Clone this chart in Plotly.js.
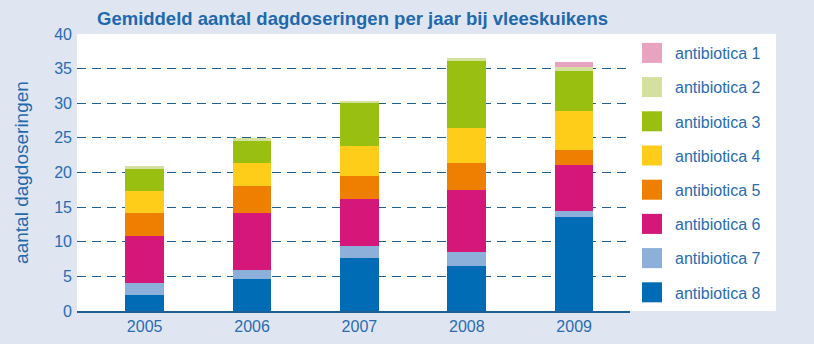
<!DOCTYPE html>
<html>
<head>
<meta charset="utf-8">
<script src="https://cdn.plot.ly/plotly-3.0.1.min.js"></script>
<style>
  html, body { margin: 0; padding: 0; background: #dfe6f2; }
  #chart { width: 814px; height: 344px; }
</style>
</head>
<body>
<div id="chart"></div>
<script>
const years = ['2005', '2006', '2007', '2008', '2009'];
const seriesNames = ['antibiotica 8', 'antibiotica 7', 'antibiotica 6', 'antibiotica 5',
                     'antibiotica 4', 'antibiotica 3', 'antibiotica 2', 'antibiotica 1'];
const antibiotica8 = [2.36, 4.68, 7.72, 6.57, 13.52];
const antibiotica7 = [1.74, 1.31, 1.60, 2.02, 0.87];
const antibiotica6 = [6.67, 8.11, 6.81, 8.84, 6.67];
const antibiotica5 = [3.33, 3.90, 3.33, 3.92, 2.17];
const antibiotica4 = [3.30, 3.35, 4.34, 5.07, 5.65];
const antibiotica3 = [3.10, 3.15, 6.24, 9.71, 5.80];
const antibiotica2 = [0.40, 0.45, 0.29, 0.44, 0.58];
const antibiotica1 = [0.00, 0.00, 0.00, 0.00, 0.72];
const seriesValues = [antibiotica8, antibiotica7, antibiotica6, antibiotica5,
                      antibiotica4, antibiotica3, antibiotica2, antibiotica1];
const seriesColors = ['#006cb5', '#8db0da', '#d5177a', '#ee7f00',
                      '#fdcd1a', '#99c010', '#d4e19e', '#e8a3c0'];
const yTicks = [0, 5, 10, 15, 20, 25, 30, 35, 40];
const gridTicks = [5, 10, 15, 20, 25, 30, 35];

const FONT = '"Liberation Sans Narrow", "Arial Narrow", "Liberation Sans", Arial, sans-serif';
const BLUE_TXT = '#2a6cb0';
const GRID = '#1f5f94';

const traces = seriesNames.map((n, i) => ({
  type: 'bar',
  name: n,
  x: years,
  y: seriesValues[i],
  width: 0.36,
  marker: { color: seriesColors[i], line: { width: 0 } },
  legendgroup: 'g' + i,
  legendrank: 8 - i,
  hoverinfo: 'x+y+name'
}));

const layout = {
  width: 814, height: 344,
  paper_bgcolor: '#dfe6f2',
  plot_bgcolor: '#ffffff',
  margin: { l: 77, r: 184, t: 34, b: 33, pad: 0 },
  barmode: 'stack',
  font: { family: FONT, color: BLUE_TXT, size: 16 },
  title: {
    text: '<b>Gemiddeld aantal dagdoseringen per jaar bij vleeskuikens</b>',
    font: { family: FONT, size: 18.5, color: '#1f69ad' },
    xref: 'container', yref: 'container',
    x: 97 / 814, xanchor: 'left',
    y: 1 - 19 / 344, yanchor: 'middle'
  },
  xaxis: {
    type: 'category',
    range: [-0.63, 4.52],
    showgrid: false,
    showline: true, linecolor: GRID, linewidth: 1.5,
    ticks: '',
    tickfont: { family: FONT, size: 16, color: BLUE_TXT },
    fixedrange: true
  },
  yaxis: {
    range: [0, 40],
    tickvals: yTicks,
    showgrid: false,
    zeroline: false,
    showline: false,
    ticks: '',
    ticklabelstandoff: 4,
    tickfont: { family: FONT, size: 16, color: BLUE_TXT },
    title: {
      text: 'aantal dagdoseringen',
      font: { family: FONT, size: 19, color: '#1f69ad' },
      standoff: 20
    },
    fixedrange: true
  },
  yaxis2: {
    overlaying: 'y',
    anchor: 'x',
    range: [0, 40],
    tickvals: gridTicks,
    showticklabels: false,
    showgrid: true,
    gridcolor: GRID,
    gridwidth: 1.2,
    griddash: '9px,6px',
    zeroline: false,
    showline: false,
    ticks: '',
    fixedrange: true
  },
  showlegend: true,
  legend: {
    x: 1.0 + 5 / 553, xanchor: 'left',
    y: 1.0 - 2 / 277, yanchor: 'top',
    xref: 'paper', yref: 'paper',
    bgcolor: 'rgba(0,0,0,0)',
    borderwidth: 0,
    traceorder: 'grouped',
    tracegroupgap: 10.4,
    font: { family: FONT, size: 16, color: BLUE_TXT },
    itemclick: false, itemdoubleclick: false
  },
  shapes: [{
    type: 'rect', xref: 'paper', yref: 'paper',
    x0: 1.0, x1: (776 - 77) / 553, y0: 0, y1: 1,
    fillcolor: '#ffffff', line: { width: 0 }, layer: 'below'
  }]
};

// invisible trace to attach yaxis2 so its grid is drawn
traces.unshift({
  type: 'scatter', x: years, y: [null, null, null, null, null],
  yaxis: 'y2', showlegend: false, hoverinfo: 'skip', mode: 'markers'
});

Plotly.newPlot('chart', traces, layout, { displayModeBar: false, staticPlot: true }).then(() => {
  document.querySelectorAll('#chart .legend .legendpoints path').forEach(p => {
    p.setAttribute('transform', 'translate(17,0) scale(1.67)');
  });
});
</script>
</body>
</html>
